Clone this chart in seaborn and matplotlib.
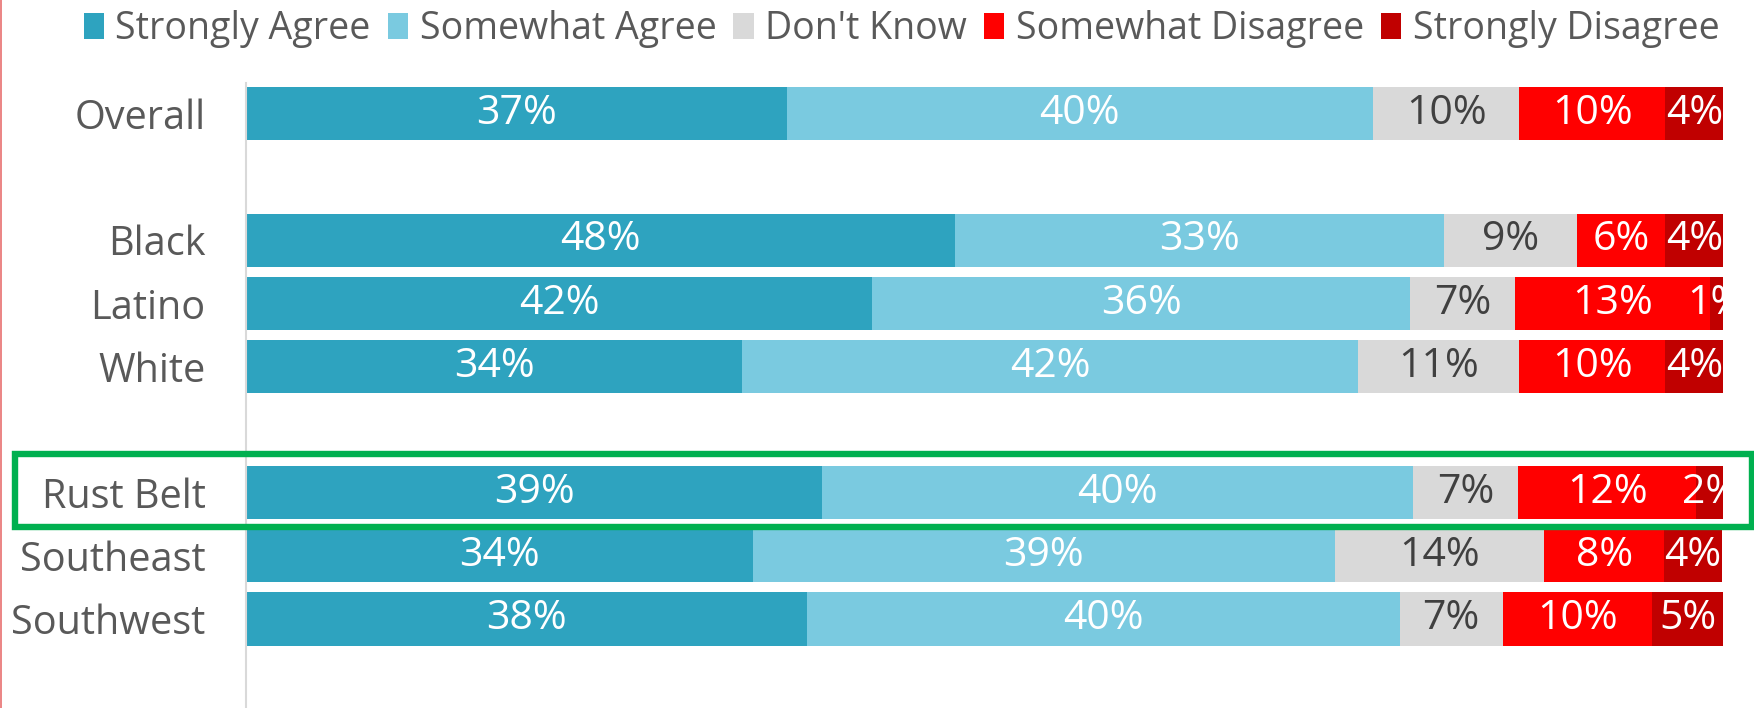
import pandas as pd
import numpy as np
import matplotlib
matplotlib.use("Agg")
import matplotlib.pyplot as plt
from matplotlib.patches import Rectangle, Patch
from matplotlib.lines import Line2D
import seaborn as sns

# --- datos (porcentajes) ---
groups = ["Overall", "Black", "Latino", "White", "Rust Belt", "Southeast", "Southwest"]
strongly_agree = [36.6, 48.0, 42.4, 33.6, 39.0, 34.3, 38.0]
somewhat_agree = [39.7, 33.1, 36.4, 41.7, 40.0, 39.4, 40.1]
dont_know = [9.9, 9.0, 7.1, 10.9, 7.1, 14.2, 7.0]
somewhat_disagree = [9.9, 6.0, 13.2, 9.9, 12.1, 8.1, 10.1]
strongly_disagree = [3.9, 3.9, 0.9, 3.9, 1.9, 3.9, 4.9]

series_names = ["Strongly Agree", "Somewhat Agree", "Don't Know",
                "Somewhat Disagree", "Strongly Disagree"]
colors = ["#2EA3BF", "#7ACAE0", "#D9D9D9", "#FF0000", "#C00000"]
label_colors = ["white", "white", "#404040", "white", "white"]

# filas vacias para separar los bloques
order = ["Overall", " ", "Black", "Latino", "White", "  ",
         "Rust Belt", "Southeast", "Southwest"]

df = pd.DataFrame({
    "group": groups,
    series_names[0]: strongly_agree,
    series_names[1]: somewhat_agree,
    series_names[2]: dont_know,
    series_names[3]: somewhat_disagree,
    series_names[4]: strongly_disagree,
})
cum = df[series_names].cumsum(axis=1)
for name in series_names:
    df["cum_" + name] = cum[name]

sns.set_style("white")
plt.rcParams["font.family"] = ["Open Sans", "DejaVu Sans"]

W, H = 1754, 708
fig = plt.figure(figsize=(W / 100, H / 100), dpi=100)
ax = fig.add_axes([246 / W, 0, (1723 - 246) / W, 1 - 83 / H])

# --- barras apiladas: se dibujan de derecha a izquierda ---
for name, col in reversed(list(zip(series_names, colors))):
    sns.barplot(data=df, x="cum_" + name, y="group", order=order, orient="h",
                color=col, saturation=1, width=0.84, linewidth=0,
                errorbar=None, ax=ax)

# --- etiquetas de porcentaje ---
pos = {g: order.index(g) for g in groups}
for name, lc in zip(series_names, label_colors):
    for _, row in df.iterrows():
        v = row[name]
        xc = row["cum_" + name] - v / 2
        ax.text(xc, pos[row["group"]], f"{v:.0f}%", ha="center", va="center",
                fontsize=29.5, color=lc, clip_on=True)

ax.set_xlim(0, 100)
ax.set_ylim(9.41, -0.49)
ax.set_xlabel("")
ax.set_ylabel("")
ax.set_xticks([])
ax.tick_params(axis="y", length=0, pad=29, labelsize=28.5, labelcolor="#595959")
for s in ["top", "right", "bottom"]:
    ax.spines[s].set_visible(False)
ax.spines["left"].set_color("#D9D9D9")
ax.spines["left"].set_linewidth(1.5)

# --- leyenda ---
handles = [Patch(facecolor=c, edgecolor="none") for c in colors]
fig.legend(handles, series_names, loc="center", bbox_to_anchor=(0.514, 1 - 29 / H),
           ncol=5, frameon=False, fontsize=27, labelcolor="#595959",
           handlelength=0.55, handleheight=0.7, handletextpad=0.3, columnspacing=0.45)

# --- recuadro verde de Rust Belt ---
fig.add_artist(Rectangle((15 / W, 1 - 527 / H), (1752 - 15) / W, (527 - 454) / H,
                         transform=fig.transFigure, fill=False,
                         edgecolor="#00B050", linewidth=4.6))

# linea roja fina en el borde izquierdo
fig.add_artist(Line2D([1 / W, 1 / W], [0, 1], transform=fig.transFigure,
                      color="#E87070", linewidth=1.2))

fig.savefig("out.png", dpi=100)
